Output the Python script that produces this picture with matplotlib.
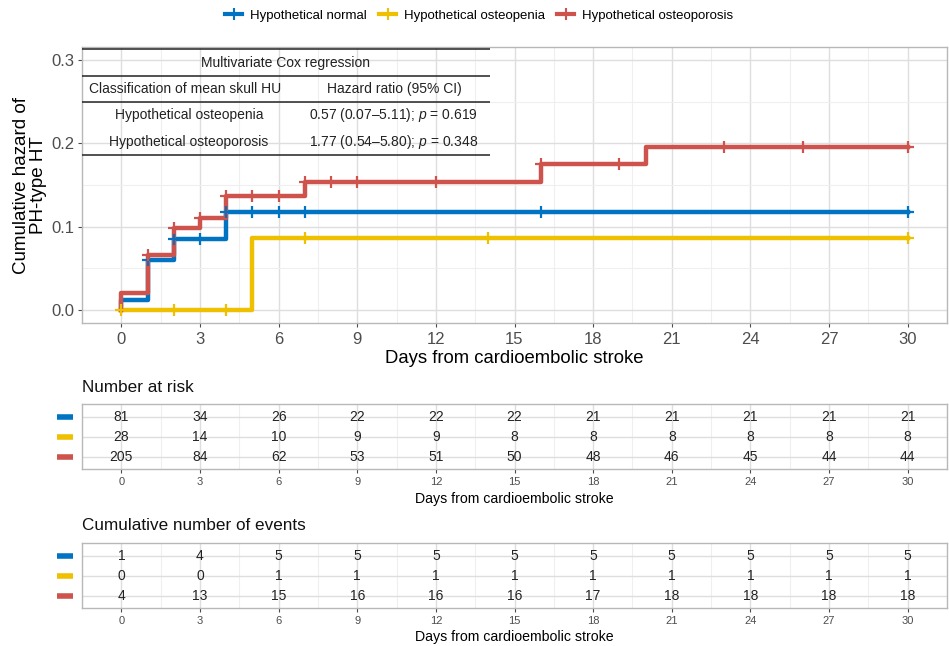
import numpy as np
import matplotlib
matplotlib.use("Agg")
import matplotlib.pyplot as plt
from matplotlib.lines import Line2D

plt.rcParams['font.family'] = ['Liberation Sans', 'DejaVu Sans']
plt.rcParams['mathtext.fontset'] = 'custom'
plt.rcParams['mathtext.it'] = 'Liberation Sans:italic'
plt.rcParams['mathtext.rm'] = 'Liberation Sans'

# groups
groups = ["Hypothetical normal", "Hypothetical osteopenia", "Hypothetical osteoporosis"]
colors = ["#0073C2", "#EFC000", "#CD534C"]

# cumulative hazard steps
normal_times = [0, 1, 2, 4]
normal_haz = [0.012, 0.060, 0.085, 0.118]
normal_cens = [1, 2, 3, 4, 5, 6, 7, 16, 30]

osteopenia_times = [5]
osteopenia_haz = [0.087]
osteopenia_cens = [0, 2, 4, 7, 14, 30]

osteoporosis_times = [0, 1, 2, 3, 4, 7, 16, 20]
osteoporosis_haz = [0.020, 0.066, 0.099, 0.111, 0.137, 0.154, 0.175, 0.195]
osteoporosis_cens = [1, 2, 3, 4, 5, 6, 7, 8, 9, 12, 16, 19, 23, 26, 30]

# tables
table_times = [0, 3, 6, 9, 12, 15, 18, 21, 24, 27, 30]
risk_normal = [81, 34, 26, 22, 22, 22, 21, 21, 21, 21, 21]
risk_osteopenia = [28, 14, 10, 9, 9, 8, 8, 8, 8, 8, 8]
risk_osteoporosis = [205, 84, 62, 53, 51, 50, 48, 46, 45, 44, 44]
events_normal = [1, 4, 5, 5, 5, 5, 5, 5, 5, 5, 5]
events_osteopenia = [0, 0, 1, 1, 1, 1, 1, 1, 1, 1, 1]
events_osteoporosis = [4, 13, 15, 16, 16, 16, 17, 18, 18, 18, 18]

cox_header = ["Classification of mean skull HU", "Hazard ratio (95% CI)"]
cox_rows = [["Hypothetical osteopenia", r"0.57 (0.07–5.11); $\it{p}$ = 0.619"],
            ["Hypothetical osteoporosis", r"1.77 (0.54–5.80); $\it{p}$ = 0.348"]]

W, H = 949, 646
fig = plt.figure(figsize=(W / 100, H / 100), dpi=100)

GRID_MAJOR = "#DEDEDE"
GRID_MINOR = "#EFEFEF"
BORDER = "#B8B8B8"
TICK_COL = "#4D4D4D"


def px_axes(l, t, r, b):
    return fig.add_axes([l / W, 1 - b / H, (r - l) / W, (b - t) / H])


def style_panel(ax):
    for s in ax.spines.values():
        s.set_color(BORDER)
        s.set_linewidth(1.0)
    ax.set_xlim(-1.5, 31.5)
    ax.set_xticks(table_times)
    ax.set_xticks(np.arange(-1.5, 31.6, 3), minor=True)
    ax.grid(which='major', axis='x', color=GRID_MAJOR, lw=1.0)
    ax.grid(which='minor', axis='x', color=GRID_MINOR, lw=0.8)
    ax.tick_params(axis='x', which='minor', length=0)
    ax.tick_params(axis='x', which='major', length=3, color=TICK_COL, labelcolor=TICK_COL)
    ax.set_axisbelow(True)


def step_curve(times, haz):
    t = np.concatenate([[0], times, [30]])
    h = np.concatenate([[0], haz, [haz[-1]]])
    return t, h


# ---- main plot
ax = px_axes(82, 47, 947, 323)
style_panel(ax)
ax.set_ylim(-0.0155, 0.3155)
ax.set_yticks([0.0, 0.1, 0.2, 0.3])
ax.set_yticklabels(["0.0", "0.1", "0.2", "0.3"])
ax.set_yticks([0.05, 0.15, 0.25], minor=True)
ax.grid(which='major', axis='y', color=GRID_MAJOR, lw=1.0)
ax.grid(which='minor', axis='y', color=GRID_MINOR, lw=0.8)
ax.tick_params(axis='y', which='minor', length=0)
ax.tick_params(axis='y', which='major', length=3, pad=2.5, color=TICK_COL, labelcolor=TICK_COL)
ax.tick_params(axis='both', which='major', labelsize=12)

curves = [(normal_times, normal_haz, normal_cens),
          (osteopenia_times, osteopenia_haz, osteopenia_cens),
          (osteoporosis_times, osteoporosis_haz, osteoporosis_cens)]
for (times, haz, cens), col in zip(curves, colors):
    t, h = step_curve(times, haz)
    ax.step(t, h, where='post', color=col, lw=3.2, zorder=3)
    idx = np.searchsorted(t, cens, side='right') - 1
    ax.plot(cens, h[idx], ls='none', marker='+', ms=9, mew=1.6, color=col, zorder=4)

ax.set_xlabel("Days from cardioembolic stroke", fontsize=13.3, labelpad=2)
ax.set_ylabel("Cumulative hazard of\nPH-type HT", fontsize=13.5, linespacing=1.05)
ax.yaxis.set_label_coords(-0.040, 0.5)

# Cox regression table overlay
tab_r = 0.4717
for yl in [0.9928, 0.895, 0.8007, 0.6087]:
    ax.plot([0, tab_r], [yl, yl], transform=ax.transAxes, color="#222222", lw=1.1,
            clip_on=False, zorder=5, solid_capstyle='butt')
ax.text(0.2347, 0.942, "Multivariate Cox regression", transform=ax.transAxes,
        ha='center', va='center', fontsize=10, color="#222222", zorder=6)
ax.text(0.1197, 0.848, cox_header[0], transform=ax.transAxes,
        ha='center', va='center', fontsize=10, color="#222222", zorder=6)
ax.text(0.3615, 0.848, cox_header[1], transform=ax.transAxes,
        ha='center', va='center', fontsize=10, color="#222222", zorder=6)
for row, yl in zip(cox_rows, [0.754, 0.656]):
    ax.text(0.1237, yl, row[0], transform=ax.transAxes,
            ha='center', va='center', fontsize=10, color="#222222", zorder=6)
    ax.text(0.3605, yl, row[1], transform=ax.transAxes,
            ha='center', va='center', fontsize=10, color="#222222", zorder=6)

# legend
handles = [Line2D([], [], color=c, lw=3, marker='+', ms=8, mew=1.5) for c in colors]
fig.legend(handles, groups, loc='center', bbox_to_anchor=(0.505, 1 - 16 / H), ncol=3,
           frameon=False, fontsize=9.5, handlelength=1.3, handletextpad=0.6,
           columnspacing=0.9)


# ---- risk / event tables
def draw_table(top, bottom, title, rows):
    tax = px_axes(82, top, 947, bottom)
    style_panel(tax)
    tax.set_ylim(0.42, 3.62)
    tax.set_yticks([1, 2, 3])
    tax.set_yticklabels([])
    tax.tick_params(axis='y', length=0)
    tax.grid(which='major', axis='y', color=GRID_MAJOR, lw=1.0)
    tax.tick_params(axis='x', which='major', labelsize=8, pad=3)
    for vals, ypos, col in zip(rows, [3, 2, 1], colors):
        for tt, v in zip(table_times, vals):
            tax.text(tt, ypos, str(v), ha='center', va='center', fontsize=10,
                     color="#222222")
        tax.plot([-0.029, -0.0105], [ypos, ypos], transform=tax.get_yaxis_transform(),
                 color=col, lw=4, clip_on=False, solid_capstyle='butt')
    tax.set_xlabel("Days from cardioembolic stroke", fontsize=10.2, labelpad=3)
    fig.text(82 / W, 1 - (top - 17) / H, title, ha='left', va='center', fontsize=12.3,
             color="#111111")
    return tax


draw_table(404, 469, "Number at risk", [risk_normal, risk_osteopenia, risk_osteoporosis])
draw_table(543, 608, "Cumulative number of events",
           [events_normal, events_osteopenia, events_osteoporosis])

fig.savefig("out.png", dpi=100)
